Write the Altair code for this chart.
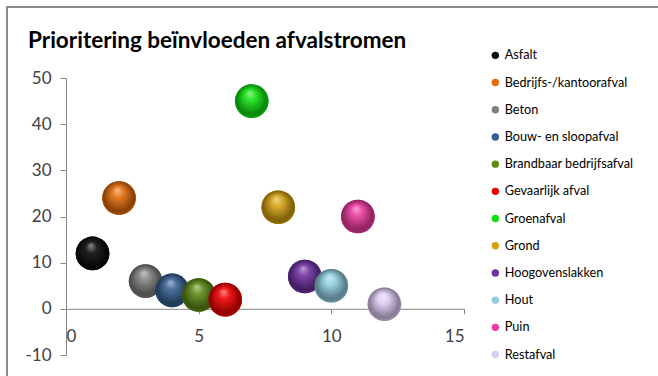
import altair as alt
import pandas as pd

names = ["Asfalt", "Bedrijfs-/kantoorafval", "Beton", "Bouw- en sloopafval",
         "Brandbaar bedrijfsafval", "Gevaarlijk afval", "Groenafval", "Grond",
         "Hoogovenslakken", "Hout", "Puin", "Restafval"]
x_vals = [1, 2, 3, 4, 5, 6, 7, 8, 9, 10, 11, 12]
y_vals = [12, 24, 6, 4, 3, 2, 45, 22, 7, 5, 20, 1]
colors = ["#0a0a0a", "#E46C0A", "#7F7F7F", "#376092", "#5E8A16", "#F00000",
          "#10E010", "#D4A010", "#7030A0", "#8FCDDF", "#EC3A9E", "#DCCBF2"]

df = pd.DataFrame({"naam": names, "x": x_vals, "y": y_vals})

W, H = 398, 277
BUBBLE = 1134


def mix(c, t, a):
    c = c.lstrip("#")
    t = t.lstrip("#")
    r = [int(c[i:i + 2], 16) for i in (0, 2, 4)]
    s = [int(t[i:i + 2], 16) for i in (0, 2, 4)]
    m = [round(r[i] * (1 - a) + s[i] * a) for i in range(3)]
    return "#%02x%02x%02x" % tuple(m)


def grad(c):
    return {
        "gradient": "radial",
        "x1": 0.45, "y1": 0.25, "r1": 0,
        "x2": 0.5, "y2": 0.5, "r2": 0.55,
        "stops": [
            {"offset": 0, "color": mix(c, "#ffffff", 0.55)},
            {"offset": 0.3, "color": mix(c, "#ffffff", 0.1)},
            {"offset": 0.8, "color": mix(c, "#000000", 0.4)},
            {"offset": 1, "color": mix(c, "#000000", 0.25)},
        ],
    }


LBL = "'' + datum.value"

xenc = alt.X("x:Q", scale=alt.Scale(domain=[0, 15], nice=False),
             axis=alt.Axis(values=[0, 5, 10, 15], grid=False, title=None,
                           offset=-46.2, tickSize=5, labelPadding=15, labelExpr=LBL,
                           domainColor="#868686", tickColor="#868686",
                           labelFont="Lato", labelFontSize=17, labelColor="#404040"))
yenc = alt.Y("y:Q", scale=alt.Scale(domain=[-10, 50], nice=False),
             axis=alt.Axis(values=[-10, 0, 10, 20, 30, 40, 50], grid=False, title=None,
                           tickSize=6, labelPadding=9, labelExpr=LBL,
                           domainColor="#868686", tickColor="#868686",
                           labelFont="Lato", labelFontSize=17, labelColor="#404040"))

base = alt.Chart(df).mark_circle(size=BUBBLE, opacity=1).encode(
    x=xenc, y=yenc,
    color=alt.Color("naam:N", scale=alt.Scale(domain=names, range=colors),
                    sort=names,
                    legend=alt.Legend(orient="none", legendX=423, legendY=-29,
                                      title=None, symbolType="circle", symbolSize=55,
                                      labelFont="Lato", labelFontSize=12.7,
                                      labelColor="#000000", rowPadding=13.2,
                                      labelOffset=3, padding=0,
                                      symbolStrokeWidth=0, symbolOpacity=1)),
)

layers = [base]
for n, c in zip(names, colors):
    layers.append(
        alt.Chart(df).transform_filter(alt.datum.naam == n)
        .mark_point(filled=True, fill=grad(c), size=BUBBLE, opacity=1, strokeWidth=0)
        .encode(x="x:Q", y="y:Q")
    )

frame_left = alt.Chart(df).mark_rule(color="#8c8c8c", strokeWidth=2).encode(
    x=alt.value(-59), y=alt.value(-71), y2=alt.value(330))
frame_top = alt.Chart(df).mark_rule(color="#8c8c8c", strokeWidth=2).encode(
    x=alt.value(-60), x2=alt.value(620), y=alt.value(-71))

chart = alt.layer(frame_left, frame_top, *layers).properties(
    width=W, height=H,
    title=alt.TitleParams("Prioritering beïnvloeden afvalstromen", anchor="start",
                          font="Lato", fontSize=22.5, fontWeight="bold", color="#000000",
                          dx=23, dy=56, offset=10),
    autosize=alt.AutoSizeParams(type="none"),
    padding={"left": 66, "top": 78, "right": 194, "bottom": 21},
).configure_view(strokeWidth=0).resolve_scale(color="independent")

chart.save("out.html", embed_options={"renderer": "svg", "actions": False})
